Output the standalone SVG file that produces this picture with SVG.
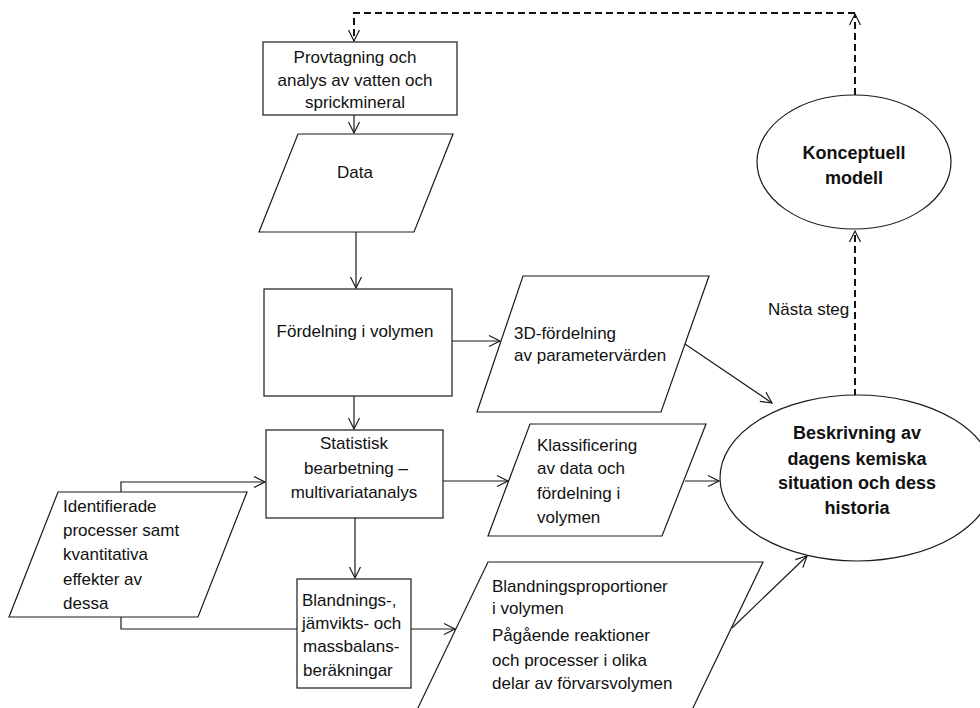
<svg xmlns="http://www.w3.org/2000/svg" width="980" height="708" viewBox="0 0 980 708">
  <defs>
    <style>
      .shape { fill: #ffffff; stroke: #1a1a1a; stroke-width: 1.2; }
      .link { fill: none; stroke: #1a1a1a; stroke-width: 1.2; }
      .dash { fill: none; stroke: #111111; stroke-width: 2; stroke-dasharray: 7 4; }
      .t { font-family: "Liberation Sans", Arial, Helvetica, sans-serif; font-size: 17px; fill: #111111; }
      .c { text-anchor: middle; }
      .b { font-weight: bold; font-size: 18px; }
    </style>
    <marker id="arrow" markerUnits="userSpaceOnUse" markerWidth="14" markerHeight="14" viewBox="-12 -7 14 14" refX="0" refY="0" orient="auto">
      <path d="M-11,-5.5 L0,0 L-11,5.5" fill="none" stroke="#1a1a1a" stroke-width="1.2"/>
    </marker>
  </defs>

  <rect width="980" height="708" fill="#ffffff"/>

  <!-- connectors -->
  <g id="connectors">
    <path class="dash" d="M855,396 V231" marker-end="url(#arrow)"/>
    <path class="dash" d="M855,95 V14" marker-end="url(#arrow)"/>
    <path class="dash" d="M855,13 H354 V41" marker-end="url(#arrow)"/>
    <path class="link" d="M354,115 V133" marker-end="url(#arrow)"/>
    <path class="link" d="M356,232 V288" marker-end="url(#arrow)"/>
    <path class="link" d="M354,396 V429" marker-end="url(#arrow)"/>
    <path class="link" d="M355,518 V578" marker-end="url(#arrow)"/>
    <path class="link" d="M452,341 H500" marker-end="url(#arrow)"/>
    <path class="link" d="M685,344 L772,403" marker-end="url(#arrow)"/>
    <path class="link" d="M443,481 H508" marker-end="url(#arrow)"/>
    <path class="link" d="M685,481 H719" marker-end="url(#arrow)"/>
    <path class="link" d="M121,492 V482 H265" marker-end="url(#arrow)"/>
    <path class="link" d="M121,617 V629 H455" marker-end="url(#arrow)"/>
    <path class="link" d="M732,628 L807,556" marker-end="url(#arrow)"/>
  </g>

  <g id="sampling">
    <rect class="shape" x="263" y="42" width="194" height="73"/>
    <text class="t c" x="355" y="63">Provtagning och</text>
    <text class="t c" x="355" y="86">analys av vatten och</text>
    <text class="t c" x="355" y="108">sprickmineral</text>
  </g>

  <g id="data">
    <polygon class="shape" points="298,134 453,134 414,232 259,232"/>
    <text class="t c" x="355" y="178">Data</text>
  </g>

  <g id="distribution">
    <rect class="shape" x="264" y="289" width="188" height="107"/>
    <text class="t c" x="355" y="337">Fördelning i volymen</text>
  </g>

  <g id="distribution-3d">
    <polygon class="shape" points="523,276 709,276 661,412 477,412"/>
    <text class="t" x="514" y="339">3D-fördelning</text>
    <text class="t" x="514" y="361">av parametervärden</text>
  </g>

  <g id="statistics">
    <rect class="shape" x="266" y="430" width="177" height="88"/>
    <text class="t c" x="354" y="449">Statistisk</text>
    <text class="t c" x="356" y="474">bearbetning –</text>
    <text class="t c" x="354" y="498">multivariatanalys</text>
  </g>

  <g id="classification">
    <polygon class="shape" points="530,424 706,424 662,536 488,536"/>
    <text class="t" x="537" y="451">Klassificering</text>
    <text class="t" x="537" y="474">av data och</text>
    <text class="t" x="537" y="499">fördelning i</text>
    <text class="t" x="537" y="523">volymen</text>
  </g>

  <g id="processes">
    <polygon class="shape" points="58,492 247,492 198,617 9,617"/>
    <text class="t" x="63" y="512">Identifierade</text>
    <text class="t" x="63" y="536">processer samt</text>
    <text class="t" x="63" y="560">kvantitativa</text>
    <text class="t" x="63" y="585">effekter av</text>
    <text class="t" x="63" y="609">dessa</text>
  </g>

  <g id="calculations">
    <rect class="shape" x="297" y="579" width="114" height="109"/>
    <text class="t" x="302" y="606">Blandnings-,</text>
    <text class="t" x="302" y="629">jämvikts- och</text>
    <text class="t" x="303" y="652">massbalans-</text>
    <text class="t" x="303" y="676">beräkningar</text>
  </g>

  <g id="results">
    <polygon class="shape" points="488,562 763,562 691,712 416,712"/>
    <text class="t" x="492" y="592">Blandningsproportioner</text>
    <text class="t" x="492" y="614">i volymen</text>
    <text class="t" x="492" y="641">Pågående reaktioner</text>
    <text class="t" x="492" y="666">och processer i olika</text>
    <text class="t" x="492" y="689">delar av förvarsvolymen</text>
  </g>

  <g id="description">
    <ellipse class="shape" cx="857" cy="478" rx="137" ry="83"/>
    <text class="t c b" x="857" y="439">Beskrivning av</text>
    <text class="t c b" x="857" y="465">dagens kemiska</text>
    <text class="t c b" x="857" y="489">situation och dess</text>
    <text class="t c b" x="857" y="514">historia</text>
  </g>

  <g id="model">
    <ellipse class="shape" cx="854" cy="162" rx="97" ry="67"/>
    <text class="t c b" x="854" y="159">Konceptuell</text>
    <text class="t c b" x="854" y="184">modell</text>
  </g>

  <g id="next-step">
    <text class="t" x="768" y="315">Nästa steg</text>
  </g>
</svg>
